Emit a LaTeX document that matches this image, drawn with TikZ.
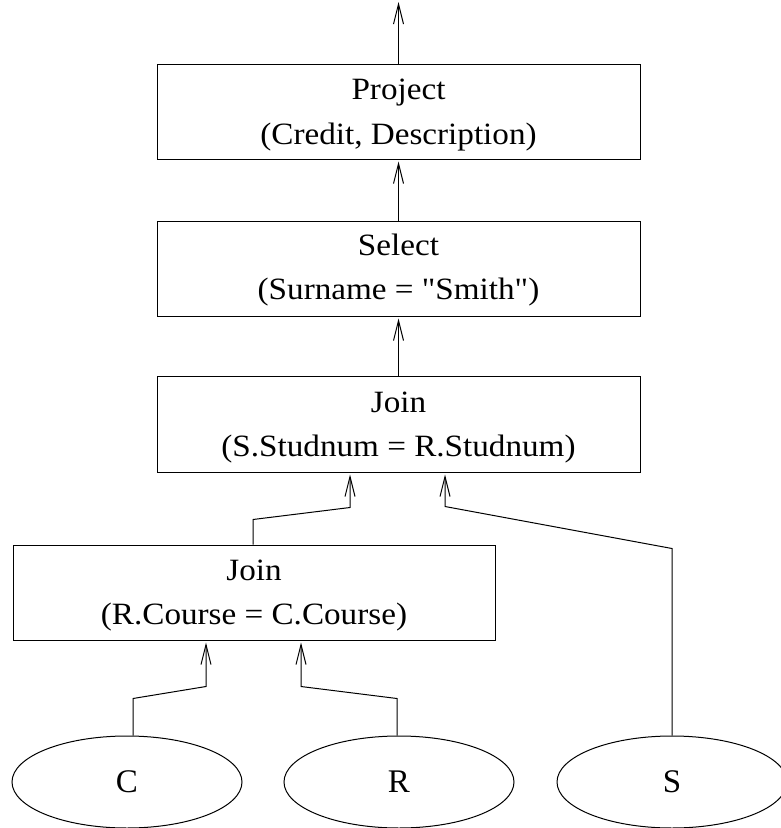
\documentclass[tikz,border=0pt]{standalone}
\usepackage{fontspec}
\setmainfont{Liberation Serif}[FakeStretch=1.07,Ligatures=TeXOff]
\newfontfamily\letterfont{Liberation Serif}
\usetikzlibrary{arrows.meta,shapes.geometric}
\begin{document}
\begin{tikzpicture}[x=1pt,y=-1pt,
  txt/.style={anchor=base,inner sep=0pt,font=\fontsize{31}{40}\selectfont},
  opbox/.style={draw,line width=1pt,rectangle,minimum width=483pt,inner sep=0pt},
  rel/.style={draw,line width=1pt,ellipse,minimum width=230pt,minimum height=92pt,inner sep=0pt,
    font=\letterfont\fontsize{33}{40}\selectfont},
  arr/.style={line width=1pt,-{Straight Barb[length=20pt,width=10pt]},shorten >=2pt}]
\useasboundingbox (0,0) rectangle (780,828);
\node[opbox,minimum height=95pt] (project) at (398.5,111.5) {};
\node[opbox,minimum height=95pt] (select) at (398.5,268.5) {};
\node[opbox,minimum height=96pt] (join1) at (398.5,424) {};
\node[opbox,minimum height=95pt,minimum width=482pt] (join2) at (254,592.5) {};
\node[txt] at ([yshift=12.5pt]project.center) {Project};
\node[txt] at ([yshift=-32.5pt]project.center) {(Credit, Description)};
\node[txt] at ([yshift=13.5pt]select.center) {Select};
\node[txt] at ([yshift=-30.5pt]select.center) {(Surname = "Smith")};
\node[txt] at ([yshift=12pt]join1.center) {Join};
\node[txt] at ([yshift=-32pt]join1.center) {(S.Studnum = R.Studnum)};
\node[txt] at ([yshift=12.5pt]join2.center) {Join};
\node[txt] at ([yshift=-31.5pt]join2.center) {(R.Course = C.Course)};
\node[rel] (c) at (127,782) {C};
\node[rel] (r) at (399,782) {R};
\node[rel] (s) at (672,782) {S};
\coordinate (top) at (398.5,0);
\draw[arr] (project.north) -- (top);
\draw[arr] (select.north) -- (project.south);
\draw[arr] (join1.north) -- (select.south);
\draw[arr] ([xshift=-1pt]join2.north) -- ++(0,-25) -- ++(97,-12) -- ([xshift=-48.5pt]join1.south);
\draw[arr] (s.north) -- ++(0,-187) -- ++(-227,-42) -- ([xshift=46.5pt]join1.south);
\draw[arr] ([xshift=6pt]c.north) -- ++(0,-37) -- ++(73,-12) -- ([xshift=-48pt]join2.south);
\draw[arr] ([xshift=-2pt]r.north) -- ++(0,-37) -- ++(-96,-12) -- ([xshift=47pt]join2.south);
\end{tikzpicture}
\end{document}
